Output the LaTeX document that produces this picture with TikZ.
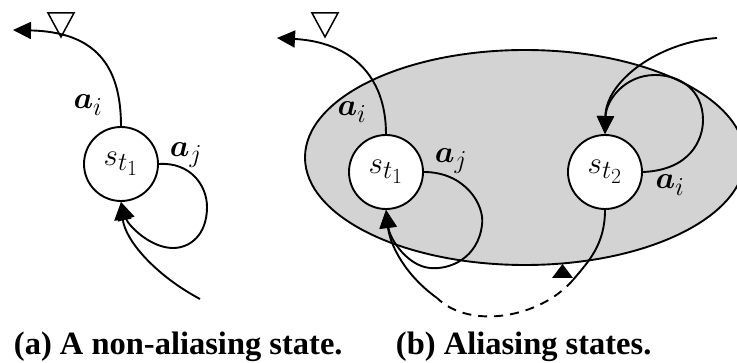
\documentclass[tikz,border=0pt]{standalone}
\usepackage{fontspec}
\setmainfont{Liberation Serif}
\usepackage{amsmath}
\usepackage{graphicx}
\usetikzlibrary{arrows.meta}
\definecolor{ellgray}{RGB}{211,211,211}
\newcommand{\enlargedmath}[1]{\scalebox{1.25}{$#1$}}
\begin{document}
\begin{tikzpicture}[x=1pt,y=-1pt,
  line width=1.9pt,
  state/.style={circle,draw,fill=white,minimum size=74pt,inner sep=0pt,font=\fontsize{24.88}{25}\selectfont},
  lbl/.style={font=\fontsize{24.88}{25}\selectfont,inner sep=0pt},
  captiontext/.style={font=\fontsize{32.5}{34}\selectfont\bfseries,inner sep=0pt,anchor=base west},
  tip/.style={-{Triangle[length=18pt,width=17pt]}},
  marker/.style={line width=1.5pt,line join=miter}]
\useasboundingbox (0,0) rectangle (737,363);

% (b) background ellipse
\filldraw[fill=ellgray] (525,157.5) ellipse [x radius=220, y radius=107.5];

% states
\node[state] (s1a) at (121,164) {\enlargedmath{s_{t_1}}};
\node[state] (s1b) at (386,172) {\enlargedmath{s_{t_1}}};
\node[state] (s2b) at (605,172) {\enlargedmath{s_{t_2}}};

% free ends
\coordinate (outA) at (13,30);
\coordinate (inA) at (200,299);
\coordinate (outB) at (277,38);
\coordinate (j1) at (437,298);
\coordinate (j2) at (573,280);
\coordinate (inB) at (717,38);

% (a) connectors
\draw[tip] (s1a.north) .. controls (121,65) and (95,32) .. (outA);
\draw[tip] (s1a.east) .. controls (190,162) and (207,185) .. (207,207)
  .. controls (207,235) and (190,248) .. (173,248)
  .. controls (150,248) and (128,225) .. (s1a.south);
\draw[tip] (inA) .. controls (155,275) and (125,240) .. (s1a.south);

% (b) connectors
\draw[tip] (s1b.north) .. controls (386,75) and (350,42) .. (outB);
\draw[tip] (s1b.east) .. controls (465,172) and (485,205) .. (482,225)
  .. controls (478,258) and (450,270) .. (430,268)
  .. controls (408,266) and (390,240) .. (s1b.south);
\draw[tip] (j1) .. controls (405,275) and (390,245) .. (s1b.south);
\draw[dash pattern=on 9pt off 7pt] (j2) .. controls (540,318) and (470,330) .. (j1);
\draw (s2b.south) .. controls (605,245) and (588,262) .. (j2);
\draw[tip] (s2b.east) .. controls (690,170) and (703,140) .. (703,120)
  .. controls (703,90) and (680,75) .. (655,75)
  .. controls (625,75) and (606,100) .. (s2b.north);
\draw[tip] (inB) .. controls (660,42) and (606,80) .. (s2b.north);
\fill (552,278) -- (573,278) -- (562.5,264) -- cycle;

% markers
\draw[marker] (48,13) -- (74,13) -- (61,37) -- cycle;
\draw[marker] (312,13) -- (338,13) -- (325,37) -- cycle;

% labels
\node[lbl] (aiA) at (88,105) {\enlargedmath{\boldsymbol{a}_i}};
\node[lbl] (ajA) at (186,155) {\enlargedmath{\boldsymbol{a}_j}};
\node[lbl] (aiB) at (352,112) {\enlargedmath{\boldsymbol{a}_i}};
\node[lbl] (ajB) at (451,161) {\enlargedmath{\boldsymbol{a}_j}};
\node[lbl] (aiB2) at (670,185) {\enlargedmath{\boldsymbol{a}_i}};

% captions
\node[captiontext] (capA) at (13,355) {(a) A non-aliasing state.};
\node[captiontext] (capB) at (395,355) {(b) Aliasing states.};
\end{tikzpicture}
\end{document}
